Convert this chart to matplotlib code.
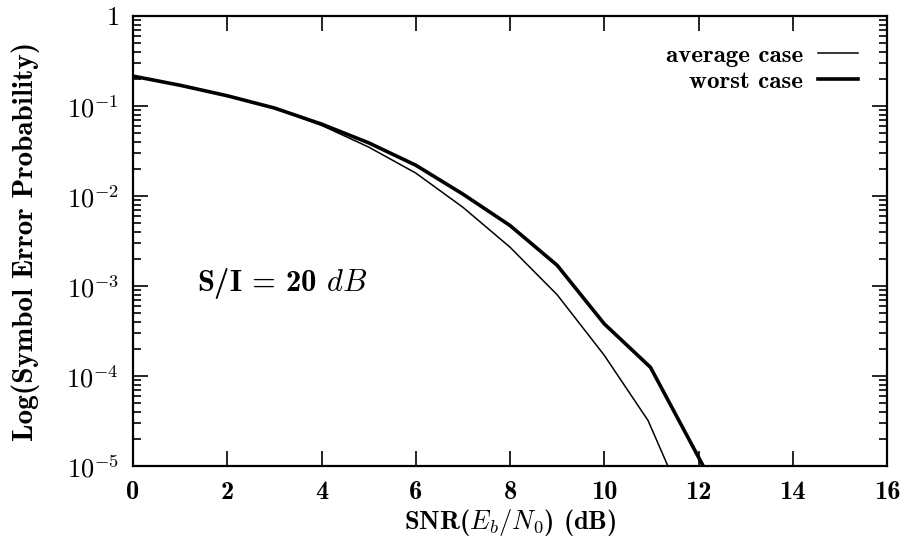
import numpy as np
import matplotlib
matplotlib.use("Agg")
import matplotlib.pyplot as plt
from matplotlib.ticker import LogLocator, FixedLocator, NullFormatter

plt.rcParams['font.family'] = 'serif'
plt.rcParams['font.serif'] = ['cmb10', 'DejaVu Serif']
plt.rcParams['mathtext.fontset'] = 'cm'
plt.rcParams['axes.unicode_minus'] = False

# curves (SNR in dB, symbol error probability)
snr_avg = [0, 1, 2, 3, 4, 5, 6, 7, 8, 9, 10, 10.93, 11.35]
pe_avg = [0.215, 0.17, 0.13, 0.095, 0.061, 0.035, 0.018, 0.0075, 0.0027, 8e-4, 1.7e-4, 3.2e-5, 1e-5]

snr_worst = [0, 1, 2, 3, 4, 5, 6, 7, 8, 9, 10, 10.98, 12.1]
pe_worst = [0.215, 0.17, 0.13, 0.095, 0.063, 0.039, 0.022, 0.0105, 0.0047, 0.0017, 3.8e-4, 1.25e-4, 1e-5]

x_ticks = [0, 2, 4, 6, 8, 10, 12, 14, 16]
y_ticks = [1e-5, 1e-4, 1e-3, 1e-2, 1e-1, 1]
y_tick_labels = [r'$\mathbf{10^{-5}}$', r'$\mathbf{10^{-4}}$', r'$\mathbf{10^{-3}}$',
                 r'$\mathbf{10^{-2}}$', r'$\mathbf{10^{-1}}$', r'$\mathbf{1}$']

fig = plt.figure(figsize=(9.03, 5.41), dpi=100)
ax = fig.add_axes([0.1473, 0.1386, 0.835, 0.8318])

ax.plot(snr_avg, pe_avg, color='black', lw=1.1, label='average case')
ax.plot(snr_worst, pe_worst, color='black', lw=2.6, label='worst case')

ax.set_yscale('log')
ax.set_xlim(0, 16)
ax.set_ylim(1e-5, 1)

ax.xaxis.set_major_locator(FixedLocator(x_ticks))
ax.set_yticks(y_ticks)
ax.set_yticklabels(y_tick_labels)
ax.yaxis.set_minor_locator(LogLocator(base=10, subs=np.arange(2, 10)))
ax.yaxis.set_minor_formatter(NullFormatter())

ax.tick_params(which='both', direction='in', top=True, right=True, width=1.2, labelsize=19)
ax.tick_params(which='major', length=11)
ax.tick_params(which='minor', length=6)
ax.tick_params(axis='x', pad=11)
ax.tick_params(axis='y', pad=10)
for s in ax.spines.values():
    s.set_linewidth(1.6)

ax.set_xlabel(r'SNR($E_b/N_0$) (dB)', fontsize=19, va='center')
ax.xaxis.set_label_coords(0.5, -0.125)
ax.set_ylabel('Log(Symbol Error Probability)', fontsize=21, va='center')
ax.yaxis.set_label_coords(-0.142, 0.5)

ax.text(1.36, 1.07e-3, r'S/I = 20 $dB$', fontsize=22, ha='left', va='center')

ax.legend(loc='upper right', frameon=False, markerfirst=False, fontsize=18,
          handlelength=1.6, handletextpad=0.6, labelspacing=0.15,
          bbox_to_anchor=(0.992, 0.987))

fig.savefig('out.png', dpi=100)
